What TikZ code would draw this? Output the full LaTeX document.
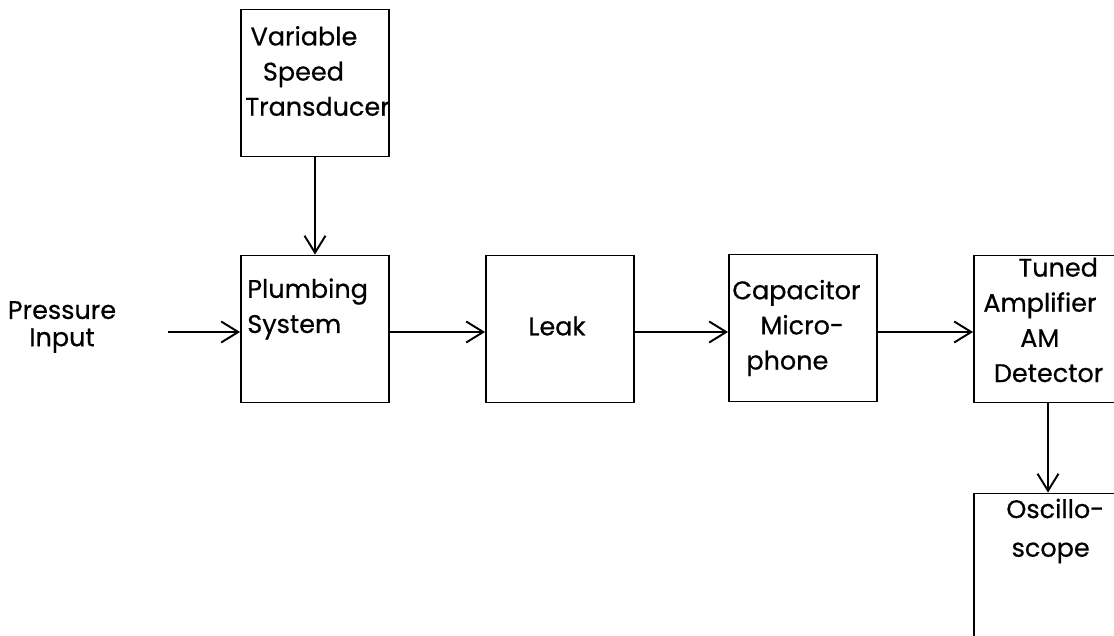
\documentclass[tikz,border=0pt]{standalone}
\usepackage{fontspec}
\setmainfont{Poppins}[FakeBold=0.6]
\usetikzlibrary{arrows.meta}
\tikzset{
  blk/.style={draw, line width=1.1pt, minimum width=2.96cm, minimum height=2.94cm, inner sep=0pt},
  lbl/.style={font=\fontsize{14.5}{20}\selectfont, align=center, inner sep=0pt},
  flow/.style={line width=1.1pt, -{Straight Barb[length=3.4mm,width=4.2mm,line width=1.1pt]}}
}
\begin{document}
\begin{tikzpicture}[x=0.02cm,y=-0.02cm]
\useasboundingbox (0,0) rectangle (1114,635);
\clip (0,0) rectangle (1114,635);
% blocks
\node[blk] (trans) at (315,83) {};
\node[blk] (plumb) at (315,329) {};
\node[blk] (leak) at (560,329) {};
\node[blk] (mic) at (803,328) {};
\node[blk] (amp) at (1048,329) {};
\node[blk] (scope) at (1048,567) {};
% texts
\node[lbl, align=left, anchor=west] (transtxt) at (245,71) {\hspace{3pt}Variable\\\hspace{10pt}Speed\\Transducer};
\node[lbl, align=left, anchor=west] (plumbtxt) at (247,309) {Plumbing\\System};
\node[lbl] (leaktxt) at (557,326) {Leak};
\node[lbl, align=left, anchor=west] (mictxt) at (732,328) {Capacitor\\\hspace{16pt}Micro-\\\hspace{8pt}phone};
\node[lbl, align=left, anchor=west] (amptxt) at (983,320) {\hspace{20pt}Tuned\\Amplifier\\\hspace{21pt}AM\\\hspace{6pt}Detector};
\node[lbl, align=left, anchor=west, font=\fontsize{14.5}{22}\selectfont] (scopetxt) at (1006,531) {Oscillo-\\\hspace{3pt}scope};
\node[lbl, font=\fontsize{14.5}{15.5}\selectfont] (press) at (62,327) {Pressure\\Input};
\coordinate (in) at (168,332);
% connectors
\draw[flow] (trans.south) -- (plumb.north);
\draw[flow] (in) -- (plumb.west |- in);
\draw[flow] (plumb.east |- in) -- (leak.west |- in);
\draw[flow] (leak.east |- in) -- (mic.west |- in);
\draw[flow] (mic.east |- in) -- (amp.west |- in);
\draw[flow] (amp.south) -- (scope.north);
\end{tikzpicture}
\end{document}
